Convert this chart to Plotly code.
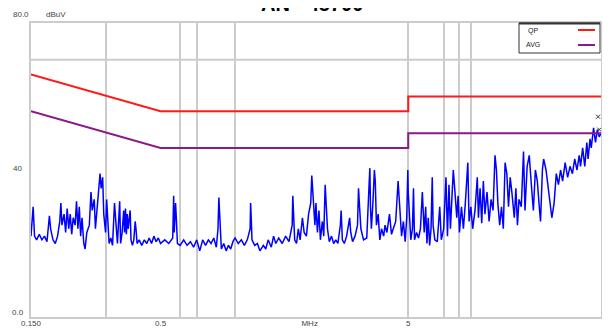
import plotly.graph_objects as go
import numpy as np

# ---------------- data ----------------
freq_mhz = [
    0.150, 0.152, 0.153, 0.155, 0.158, 0.162, 0.166, 0.170, 0.174, 0.178, 0.180, 0.184, 0.188, 0.192,
    0.196, 0.198, 0.200, 0.204, 0.207, 0.210, 0.213, 0.216, 0.219, 0.222, 0.226, 0.229, 0.232, 0.235,
    0.238, 0.241, 0.245, 0.248, 0.252, 0.258, 0.262, 0.265, 0.270, 0.273, 0.277, 0.282, 0.285, 0.288,
    0.292, 0.295, 0.300, 0.303, 0.306, 0.310, 0.315, 0.320, 0.326, 0.330, 0.335, 0.342, 0.345, 0.350,
    0.355, 0.358, 0.361, 0.364, 0.367, 0.370, 0.374, 0.377, 0.380, 0.385, 0.390, 0.395, 0.398, 0.402,
    0.41, 0.42, 0.43, 0.44, 0.45, 0.46, 0.47, 0.48, 0.49, 0.50, 0.52, 0.54, 0.56, 0.565, 0.568, 0.575,
    0.58, 0.585, 0.60, 0.62, 0.64, 0.66, 0.68, 0.70,
    0.72, 0.74, 0.76, 0.78, 0.80, 0.82, 0.84, 0.853, 0.86, 0.87, 0.88, 0.90, 0.92, 0.94, 0.96, 0.98,
    1.00, 1.03, 1.06, 1.09, 1.12, 1.15, 1.155, 1.16, 1.17, 1.20, 1.23, 1.26, 1.30, 1.33, 1.36, 1.40,
    1.43, 1.46, 1.50, 1.55, 1.60, 1.65, 1.70, 1.71, 1.72, 1.74, 1.77, 1.80, 1.83, 1.87, 1.90, 1.94,
    1.98, 2.02, 2.04, 2.06, 2.10, 2.12, 2.15, 2.18, 2.21, 2.25, 2.28, 2.31, 2.33, 2.36, 2.40, 2.45,
    2.50, 2.55, 2.60, 2.66, 2.68, 2.71, 2.76, 2.82, 2.90, 2.93, 2.98, 3.05, 3.12, 3.15, 3.18, 3.22,
    3.30, 3.40, 3.48, 3.50, 3.52, 3.55, 3.60, 3.65, 3.68, 3.72, 3.78, 3.84, 3.90, 3.98, 4.03, 4.10,
    4.20, 4.28, 4.35, 4.45, 4.55, 4.62, 4.70, 4.78, 4.86, 4.93, 4.98, 5.00, 5.05, 5.12, 5.20, 5.25,
    5.30, 5.40, 5.50, 5.60, 5.70, 5.80, 5.88, 5.95, 6.02, 6.10, 6.18, 6.25, 6.30, 6.40, 6.55, 6.70,
    6.80, 6.95, 7.10, 7.20, 7.30, 7.40, 7.50, 7.60, 7.70, 7.85, 7.95, 8.05, 8.20, 8.35, 8.50, 8.70,
    8.80, 8.95, 9.10, 9.30, 9.50, 9.60, 9.75, 9.90, 10.05, 10.2, 10.4, 10.6, 10.8, 11.0, 11.2, 11.35,
    11.5, 11.7, 11.9, 12.1, 12.3, 12.5, 12.7, 12.9, 13.1, 13.4, 13.6, 13.8, 14.0, 14.3, 14.6, 14.8,
    15.1, 15.4, 15.7, 16.0, 16.3, 16.6, 16.9, 17.1, 17.4, 17.6, 18.0, 18.4, 18.7, 19.0, 19.4, 19.8,
    20.2, 20.6, 21.0, 21.5, 22.0, 22.5, 23.0, 23.5, 24.0, 24.5, 24.8, 25.3, 25.8, 26.3, 26.6, 27.1,
    27.4, 28.0, 28.5, 29.0, 29.5, 30.0,
]
level_dbuv = [
    22, 27, 30, 22, 21, 22.5, 21, 22, 20.5, 27.5, 24, 21, 20, 22,
    26, 31, 25, 28, 23, 29.5, 24, 28, 22.5, 27, 25, 31.5, 24, 30,
    22, 27, 20, 18.5, 23, 25, 34, 29, 32, 24, 30, 36, 39, 35,
    38, 28, 23, 32, 25, 20, 21.5, 19.5, 31, 25, 20, 31.5, 20, 23,
    29, 23, 29.5, 22.5, 28, 24, 27, 29, 21, 19.5, 21, 26, 24, 20,
    21, 19.5, 21, 20, 21.5, 20, 22, 20.5, 21.5, 20, 21, 20, 21.5, 33, 23, 31,
    26, 20, 19.5, 21, 19.5, 20.5, 19, 21,
    18, 21, 19.5, 21, 20, 21.5, 19, 24, 32.5, 25, 18.5, 20, 18, 19.5, 18.5, 20.5,
    21.5, 20, 21, 19.5, 21, 24, 31, 28, 21, 19.5, 20, 18, 19.5, 18.5, 21, 19,
    22, 20, 21.5, 20, 22, 20.5, 25, 33, 29, 21, 20, 24, 21, 27, 23, 22,
    28, 31, 38.5, 33, 25, 31, 23, 29, 21, 26, 22, 36, 32, 24, 20.5, 22,
    20, 21, 20, 25, 29, 21, 20, 22, 27, 23, 20.5, 22, 25, 35, 30, 24,
    21, 21.5, 37, 40.5, 30, 24, 31, 40, 37, 25, 28, 21, 24, 22, 25, 23,
    28, 22.5, 24, 26, 37, 30, 22, 26, 20.5, 27, 40, 34, 28, 21, 24, 35,
    21, 23, 21.5, 24, 34, 23, 30, 20, 27, 19.5, 24, 38, 25, 21, 20.5, 30,
    21, 24, 38, 22, 36, 24, 32, 40, 35, 27, 33, 23, 30, 24, 31, 42,
    26, 30, 24, 29, 38, 27, 35, 25.5, 37, 28, 34, 26, 32, 29, 44, 40,
    31, 25, 30, 24, 42, 39, 30, 38, 34, 27, 35, 25, 32, 30, 45, 29,
    41, 44, 36, 29, 40, 37, 30, 26, 40, 43, 40, 35, 32, 27, 31, 39,
    36, 40, 37, 42, 38, 41, 39, 43, 40, 44, 41, 46, 41, 47.5, 43, 48.5,
    46, 51.5, 47.5, 51, 49, 50,
]

limit_freq = [0.15, 0.5, 0.5, 5.0, 5.0, 30.0]
qp_limit = [66, 56, 56, 56, 60, 60]
avg_limit = [56, 46, 46, 46, 50, 50]

marker_freq = [29.2, 29.5]
marker_level = [54.5, 51.0]

grid_freqs = [0.3, 0.6, 0.7, 1.0, 5.0, 7.0, 8.0, 9.0]
x_tick_vals = [0.15, 0.5, 2.0, 5.0, 30.0]
x_tick_text = ["0.150", "0.5", "MHz", "5", "30.000"]

# ---------------- figure ----------------
# the page body adds an 8px offset; size the figure so the plot lands where the reference has it
O = 8
W, H = 602, 328
L, R, T, B = 23, 9, 15, 19
pw, ph = W - L - R, H - T - B

def px(x):
    return (x - O - L) / pw

def py(y):
    return (H - B - (y - O)) / ph

fig = go.Figure()

fig.add_trace(go.Scatter(x=freq_mhz, y=level_dbuv, mode="lines",
                         line=dict(color="#0000ff", width=1.5), showlegend=False))
fig.add_trace(go.Scatter(x=limit_freq, y=qp_limit, mode="lines",
                         line=dict(color="#ff1a1a", width=2), showlegend=False))
fig.add_trace(go.Scatter(x=limit_freq, y=avg_limit, mode="lines",
                         line=dict(color="#8a1a8a", width=2), showlegend=False))
fig.add_trace(go.Scatter(x=marker_freq, y=marker_level, mode="markers",
                         marker=dict(symbol="x-thin", size=4, color="#333",
                                     line=dict(width=1, color="#333")), showlegend=False))
# dummy trace for the label axis
fig.add_trace(go.Scatter(x=[0.15, 30], y=[None, None], xaxis="x2", mode="lines",
                         showlegend=False, hoverinfo="skip"))

rng = [np.log10(0.15), np.log10(30)]
fig.update_layout(
    width=W, height=H,
    margin=dict(l=L, r=R, t=T, b=B, autoexpand=False),
    paper_bgcolor="white", plot_bgcolor="white",
    font=dict(family="Liberation Sans, Arial, sans-serif", size=8, color="#444"),
    xaxis=dict(type="log", range=rng, tickvals=grid_freqs, showticklabels=False,
               showgrid=True, gridcolor="#cccccc", gridwidth=2, ticks="", automargin=False,
               showline=True, mirror=True, linecolor="#cccccc", linewidth=2, zeroline=False),
    xaxis2=dict(type="log", range=rng, overlaying="x", anchor="y", side="bottom",
                tickvals=x_tick_vals, ticktext=x_tick_text, showgrid=False, ticks="",
                automargin=False,
                tickfont=dict(size=8, color="#444"), zeroline=False, showline=False),
    yaxis=dict(range=[0, 80], showgrid=False, showticklabels=False, ticks="", automargin=False,
               showline=True, mirror=True, linecolor="#cccccc", linewidth=2, zeroline=False),
    showlegend=False,
)

# horizontal grid line
fig.add_shape(type="line", xref="paper", yref="y", x0=0, x1=1, y0=70, y1=70,
              line=dict(color="#cccccc", width=2), layer="below")

ann = []
ann.append(dict(text="<b>AN - 45700</b>", x=px(312), y=py(17), xref="paper", yref="paper",
                xanchor="center", yanchor="bottom", showarrow=False,
                font=dict(size=20, color="black", family="Liberation Sans, Arial")))
ann.append(dict(text="80.0", x=px(31), y=py(14), xref="paper", yref="paper",
                xanchor="right", yanchor="middle", showarrow=False, font=dict(size=8, color="#444")))
ann.append(dict(text="dBuV", x=px(44), y=py(14), xref="paper", yref="paper",
                xanchor="left", yanchor="middle", showarrow=False, font=dict(size=8, color="#444")))
ann.append(dict(text="40", x=px(24), y=py(168), xref="paper", yref="paper",
                xanchor="right", yanchor="middle", showarrow=False, font=dict(size=8, color="#444")))
ann.append(dict(text="0.0", x=px(26), y=py(312), xref="paper", yref="paper",
                xanchor="right", yanchor="middle", showarrow=False, font=dict(size=8, color="#444")))
# legend
ann.append(dict(text="QP", x=px(526), y=py(31), xref="paper", yref="paper",
                xanchor="left", yanchor="middle", showarrow=False, font=dict(size=7, color="#222")))
ann.append(dict(text="AVG", x=px(524), y=py(45), xref="paper", yref="paper",
                xanchor="left", yanchor="middle", showarrow=False, font=dict(size=7, color="#222")))
fig.update_layout(annotations=ann)

fig.add_shape(type="rect", xref="paper", yref="paper", x0=px(519), x1=px(600), y0=py(53), y1=py(23),
              line=dict(color="#333", width=1), fillcolor="white", layer="above")
fig.add_shape(type="line", xref="paper", yref="paper", x0=px(519), x1=px(600), y0=py(23.5), y1=py(23.5),
              line=dict(color="#333", width=2), layer="above")
fig.add_shape(type="line", xref="paper", yref="paper", x0=px(578), x1=px(595), y0=py(30), y1=py(30),
              line=dict(color="#ff1a1a", width=2), layer="above")
fig.add_shape(type="line", xref="paper", yref="paper", x0=px(578), x1=px(595), y0=py(45), y1=py(45),
              line=dict(color="#8a1a8a", width=2), layer="above")

fig.write_html("out.html")
